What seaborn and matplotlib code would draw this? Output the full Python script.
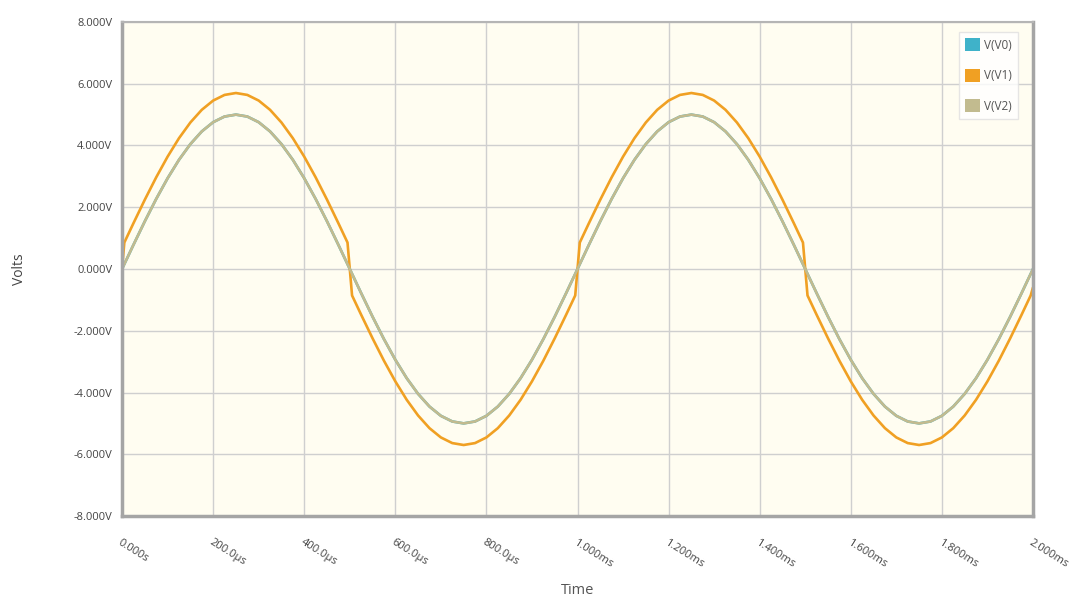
import matplotlib
matplotlib.use("Agg")
import matplotlib.pyplot as plt
import seaborn as sns
import pandas as pd
from matplotlib.patches import Patch

# Tiempo en microsegundos
tiempo_us = [
    0, 5, 25, 50, 75, 100, 125, 150, 175, 200, 225, 250, 275, 300, 325, 350, 375, 400, 425, 450, 475, 495,
    505, 525, 550, 575, 600, 625, 650, 675, 700, 725, 750, 775, 800, 825, 850, 875, 900, 925, 950, 975, 995,
    1005, 1025, 1050, 1075, 1100, 1125, 1150, 1175, 1200, 1225, 1250, 1275, 1300, 1325, 1350, 1375, 1400,
    1425, 1450, 1475, 1495,
    1505, 1525, 1550, 1575, 1600, 1625, 1650, 1675, 1700, 1725, 1750, 1775, 1800, 1825, 1850, 1875, 1900,
    1925, 1950, 1975, 1995, 2000,
]

v2 = [
    0.000, 0.157, 0.782, 1.545, 2.270, 2.939, 3.536, 4.045, 4.455, 4.755, 4.938, 5.000, 4.938, 4.755, 4.455,
    4.045, 3.536, 2.939, 2.270, 1.545, 0.782, 0.157,
    -0.157, -0.782, -1.545, -2.270, -2.939, -3.536, -4.045, -4.455, -4.755, -4.938, -5.000, -4.938, -4.755,
    -4.455, -4.045, -3.536, -2.939, -2.270, -1.545, -0.782, -0.157,
    0.157, 0.782, 1.545, 2.270, 2.939, 3.536, 4.045, 4.455, 4.755, 4.938, 5.000, 4.938, 4.755, 4.455,
    4.045, 3.536, 2.939, 2.270, 1.545, 0.782, 0.157,
    -0.157, -0.782, -1.545, -2.270, -2.939, -3.536, -4.045, -4.455, -4.755, -4.938, -5.000, -4.938, -4.755,
    -4.455, -4.045, -3.536, -2.939, -2.270, -1.545, -0.782, -0.157, 0.000,
]

v1 = [
    0.000, 0.857, 1.482, 2.245, 2.970, 3.639, 4.236, 4.745, 5.155, 5.455, 5.638, 5.700, 5.638, 5.455, 5.155,
    4.745, 4.236, 3.639, 2.970, 2.245, 1.482, 0.857,
    -0.857, -1.482, -2.245, -2.970, -3.639, -4.236, -4.745, -5.155, -5.455, -5.638, -5.700, -5.638, -5.455,
    -5.155, -4.745, -4.236, -3.639, -2.970, -2.245, -1.482, -0.857,
    0.857, 1.482, 2.245, 2.970, 3.639, 4.236, 4.745, 5.155, 5.455, 5.638, 5.700, 5.638, 5.455, 5.155,
    4.745, 4.236, 3.639, 2.970, 2.245, 1.482, 0.857,
    -0.857, -1.482, -2.245, -2.970, -3.639, -4.236, -4.745, -5.155, -5.455, -5.638, -5.700, -5.638, -5.455,
    -5.155, -4.745, -4.236, -3.639, -2.970, -2.245, -1.482, -0.857, -0.600,
]

# V(V0) queda oculta debajo de V(V2)
v0 = list(v2)

series = ["V(V0)", "V(V1)", "V(V2)"]
colores = ["#3fb2c9", "#f0a023", "#c2bb8f"]

x_ticks = [0, 200, 400, 600, 800, 1000, 1200, 1400, 1600, 1800, 2000]
x_labels = ["0.000s", "200.0μs", "400.0μs", "600.0μs", "800.0μs", "1.000ms",
            "1.200ms", "1.400ms", "1.600ms", "1.800ms", "2.000ms"]
y_ticks = [8, 6, 4, 2, 0, -2, -4, -6, -8]
y_labels = ["8.000V", "6.000V", "4.000V", "2.000V", "0.000V", "-2.000V",
            "-4.000V", "-6.000V", "-8.000V"]

sns.set_style("white")
plt.rcParams['font.family'] = ['Open Sans', 'DejaVu Sans']

df = pd.DataFrame({"t": tiempo_us, "V(V0)": v0, "V(V1)": v1, "V(V2)": v2})

fig = plt.figure(figsize=(10.83, 5.96), dpi=100)
ax = fig.add_axes([0.1127, 0.1342, 0.8411, 0.8289])
ax.set_facecolor("#fffdf1")

for nombre, color in zip(series, colores):
    sns.lineplot(data=df, x="t", y=nombre, color=color, linewidth=1.9,
                 sort=False, estimator=None, ax=ax, legend=False,
                 solid_joinstyle="round")

ax.set_xlim(0, 2000)
ax.set_ylim(-8, 8)
ax.set_xticks(x_ticks)
ax.set_xticklabels(x_labels, rotation=-32, ha="left", va="top", rotation_mode="anchor",
                   fontsize=8, color="#444444")
ax.set_yticks(y_ticks)
ax.set_yticklabels(y_labels, fontsize=8, color="#444444")
ax.tick_params(axis="both", length=5, width=1, color="#b0b0b0", direction="out")
ax.tick_params(axis="x", pad=10)
ax.tick_params(axis="y", pad=2)

ax.grid(True, color="#cfcfcf", linewidth=1.0)
ax.set_axisbelow(True)

for lado in ["left", "bottom", "right"]:
    ax.spines[lado].set_color("#a5a5a5")
    ax.spines[lado].set_linewidth(2.5)
ax.spines["top"].set_color("#b5b5b5")
ax.spines["top"].set_linewidth(1.5)

ax.set_xlabel("Time", fontsize=10.5, color="#555555")
ax.set_ylabel("Volts", fontsize=10, color="#444444")
ax.xaxis.set_label_coords(0.5, -0.135)
ax.yaxis.set_label_coords(-0.104, 0.5)

handles = [Patch(facecolor=c, edgecolor="none") for c in colores]
leg = ax.legend(handles, series, loc="upper right", bbox_to_anchor=(0.984, 0.98),
                fontsize=8.5, handlelength=1.3, handleheight=1.3, handletextpad=0.3,
                labelspacing=1.45, borderpad=0.55, borderaxespad=0.0,
                frameon=True, fancybox=False)
leg.get_frame().set_edgecolor("#e0e0e0")
leg.get_frame().set_facecolor("#ffffff")
leg.get_frame().set_linewidth(1.0)
for txt in leg.get_texts():
    txt.set_color("#555555")

fig.savefig("out.png", dpi=100)
plt.close(fig)
